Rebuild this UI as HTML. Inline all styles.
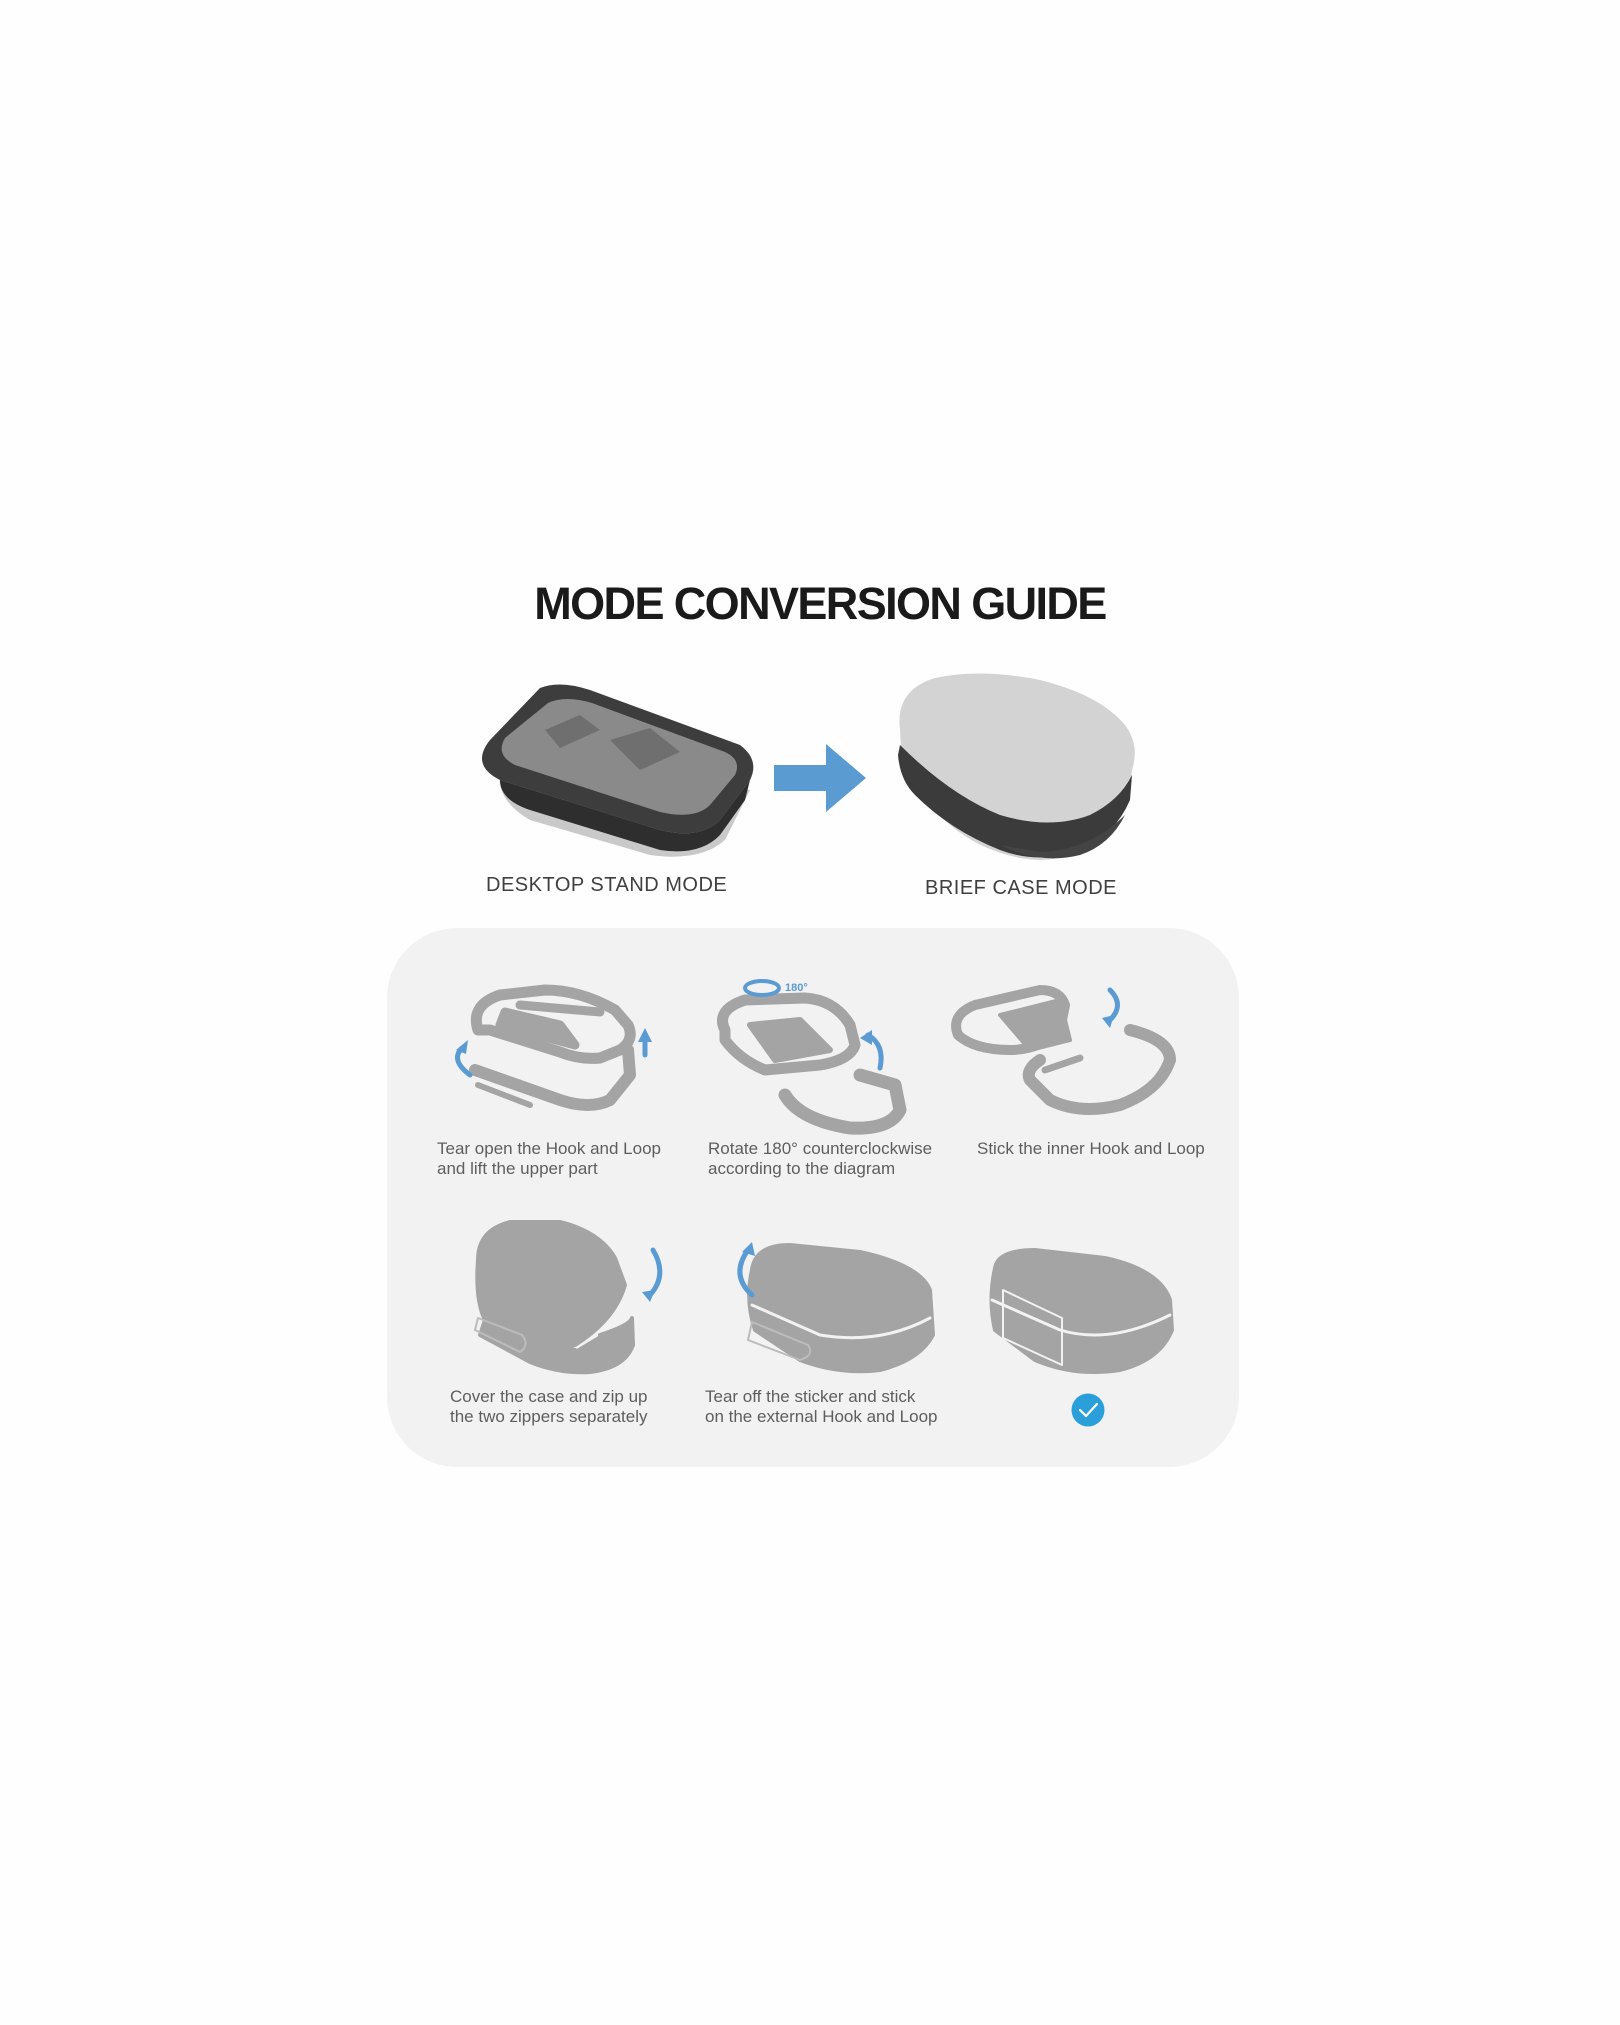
<!DOCTYPE html>
<html><head><meta charset="utf-8"><style>
body{margin:0;width:1620px;height:2025px;background:#fefefe;position:relative;overflow:hidden;font-family:"Liberation Sans",sans-serif}
.t{position:absolute;white-space:nowrap}
.cap{position:absolute;font-size:17px;color:#5e5e5e;line-height:20px;white-space:nowrap}
</style></head><body>
<div class="t" style="left:0;width:1640px;text-align:center;top:578px;font-size:45px;font-weight:bold;color:#1a1a1a;letter-spacing:-1.6px">MODE CONVERSION GUIDE</div>

<svg style="position:absolute;left:0;top:0" width="1620" height="2025">
<!-- desktop stand case -->
<path d="M500 770 Q495 800 530 820 L650 855 Q700 862 725 840 L750 790 Z" fill="#c9c9c9"/>
<path d="M490 740 Q470 765 500 780 L660 830 Q700 840 720 820 L750 780 Q760 760 740 745 L590 690 Q560 680 540 688 Z" fill="#3d3d3d"/>
<path d="M505 738 Q495 755 515 765 L660 812 Q695 820 710 805 L735 775 Q742 760 725 752 L592 703 Q565 695 548 703 Z" fill="#8a8a8a"/>
<path d="M545 730 L580 715 L600 730 L560 748 Z M610 740 L650 728 L680 752 L640 770 Z" fill="#6f6f6f"/>
<path d="M500 780 Q500 800 530 810 L660 850 Q700 856 720 835 L745 800 L750 780 L720 820 Q700 840 660 830 Z" fill="#2e2e2e"/>
<!-- arrow -->
<path d="M774 765 H826 V744 L866 778 L826 812 V791 H774 Z" fill="#5a9bd2"/>
<!-- brief case -->
<path d="M900 730 Q895 690 935 678 Q980 668 1040 680 Q1100 695 1125 725 Q1140 745 1132 770 L1130 790 Q1125 820 1090 845 Q1060 865 1020 858 Q980 850 950 825 Q915 795 902 765 Z" fill="#d3d3d3"/>
<path d="M898 755 Q900 780 915 795 Q950 830 1000 850 Q1040 865 1080 850 Q1115 835 1130 800 L1132 775 Q1120 800 1090 815 Q1050 830 1000 815 Q950 795 900 745 Z" fill="#3b3b3b"/>
<path d="M1000 845 Q1040 865 1080 855 Q1110 845 1125 815 Q1090 850 1040 852 Z" fill="#444"/>
</svg>
<div class="t" style="left:486px;top:874px;font-size:20px;color:#3f3f3f;letter-spacing:0.5px">DESKTOP STAND MODE</div>
<div class="t" style="left:925px;top:877px;font-size:20px;color:#3f3f3f;letter-spacing:0.5px">BRIEF CASE MODE</div>

<div style="position:absolute;left:387px;top:928px;width:852px;height:539px;background:#f2f2f2;border-radius:70px"></div>

<svg style="position:absolute;left:0;top:0" width="1620" height="2025" fill="none" stroke-linecap="round" stroke-linejoin="round">
<g stroke="#a4a4a4">
<!-- icon1 -->
<path d="M478 1030 Q470 1005 500 995 L545 990 Q580 990 615 1010 L628 1025 Q635 1040 620 1050 L600 1058 Q580 1060 560 1052 L490 1030 Z" stroke-width="11"/>
<path d="M505 1012 L560 1025 L575 1045 L500 1025 Z M520 1005 L600 1012" stroke-width="9" fill="#a4a4a4"/>
<path d="M475 1070 L560 1100 Q590 1110 610 1100 L630 1075 L628 1050" stroke-width="12"/>
<path d="M478 1085 L530 1105" stroke-width="6"/>
<!-- icon2 -->
<path d="M725 1030 Q715 1010 745 1000 L805 998 Q835 1000 850 1025 L855 1045 Q850 1060 820 1065 L765 1070 Q740 1060 725 1040 Z" stroke-width="11"/>
<path d="M750 1025 L800 1020 L830 1050 L775 1060 Z" fill="#a4a4a4" stroke-width="6"/>
<path d="M785 1095 Q800 1120 850 1128 Q890 1130 900 1110 L895 1085 L860 1075" stroke-width="13"/>
<!-- icon3 -->
<path d="M958 1035 Q950 1015 975 1005 L1040 990 Q1060 990 1065 1005 L1060 1030 Q1040 1050 1010 1050 Q975 1050 958 1035 Z" stroke-width="10"/>
<path d="M1000 1015 L1060 1000 L1070 1040 L1030 1050 Z" fill="#a4a4a4" stroke-width="4"/>
<path d="M1130 1030 Q1170 1040 1170 1060 Q1160 1090 1120 1105 Q1080 1115 1050 1100 L1030 1080 Q1025 1070 1040 1060" stroke-width="12"/>
<path d="M1045 1070 L1080 1058" stroke-width="7"/>
<!-- icon4 -->
<path d="M478 1260 Q478 1230 510 1222 L560 1222 Q600 1232 615 1258 L625 1285 Q615 1320 575 1345 Q555 1355 530 1345 L485 1320 Q475 1300 478 1260 Z" fill="#a4a4a4" stroke-width="4"/>
<path d="M600 1335 Q630 1325 632 1318 L633 1345 Q625 1368 590 1372 Q560 1374 530 1362 L480 1335 L485 1320 Q530 1350 575 1350" fill="#a4a4a4" stroke-width="4"/>
<path d="M475 1330 L520 1352 Q530 1345 522 1335 L478 1318 Z" stroke="#bcbcbc" stroke-width="2"/>
<!-- icon5 -->
<path d="M752 1270 Q755 1245 790 1245 L860 1252 Q920 1265 930 1290 L933 1335 Q920 1360 880 1370 Q840 1375 800 1360 L755 1330 Q745 1300 752 1270 Z" fill="#a4a4a4" stroke-width="4"/>
<path d="M752 1305 L820 1335 Q880 1345 930 1318" stroke="#f2f2f2" stroke-width="3"/>
<path d="M748 1340 L800 1360 Q815 1355 808 1345 L752 1322 Z" stroke="#bcbcbc" stroke-width="2"/>
<!-- icon6 -->
<path d="M995 1268 Q998 1250 1035 1250 L1105 1258 Q1160 1270 1170 1300 L1172 1330 Q1160 1360 1120 1370 Q1075 1377 1035 1360 L995 1330 Q988 1300 995 1268 Z" fill="#a4a4a4" stroke-width="4"/>
<path d="M992 1300 L1060 1330 Q1110 1345 1170 1315" stroke="#f2f2f2" stroke-width="3"/>
<path d="M1003 1290 L1062 1318 L1062 1365 L1003 1338 Z" stroke="#f2f2f2" stroke-width="2"/>
</g>
<g stroke="#5b9bd3" stroke-width="5">
<path d="M470 1075 Q450 1060 462 1048"/><path d="M645 1055 V1040"/>
<path d="M880 1068 Q885 1045 868 1035"/>
<path d="M1110 990 Q1125 1005 1110 1020"/>
<path d="M653 1250 Q668 1275 650 1295"/>
<path d="M752 1295 Q730 1275 748 1250"/>
<ellipse cx="762" cy="988" rx="17" ry="7" stroke-width="4"/>
</g>
<g fill="#5b9bd3">
<path d="M638 1042 L645 1028 L652 1042 Z"/><path d="M456 1050 L468 1040 L466 1054 Z"/>
<path d="M860 1038 L872 1030 L872 1045 Z"/><path d="M1102 1018 L1114 1015 L1110 1028 Z"/>
<path d="M642 1292 L655 1290 L650 1302 Z"/><path d="M742 1252 L752 1242 L755 1256 Z"/>
</g>
<text x="785" y="991" font-family="Liberation Sans" font-size="11" font-weight="bold" fill="#5b9bd3">180°</text>
<circle cx="1088" cy="1410" r="16.5" fill="#2b9fd9"/>
<path d="M1080 1410 L1086 1416 L1097 1404" stroke="#fff" stroke-width="2.2"/>
</svg>

<div class="cap" style="left:437px;top:1139px">Tear open the Hook and Loop<br>and lift the upper part</div>
<div class="cap" style="left:708px;top:1139px">Rotate 180° counterclockwise<br>according to the diagram</div>
<div class="cap" style="left:977px;top:1139px">Stick the inner Hook and Loop</div>
<div class="cap" style="left:450px;top:1387px">Cover the case and zip up<br>the two zippers separately</div>
<div class="cap" style="left:705px;top:1387px">Tear off the sticker and stick<br>on the external Hook and Loop</div>
</body></html>
